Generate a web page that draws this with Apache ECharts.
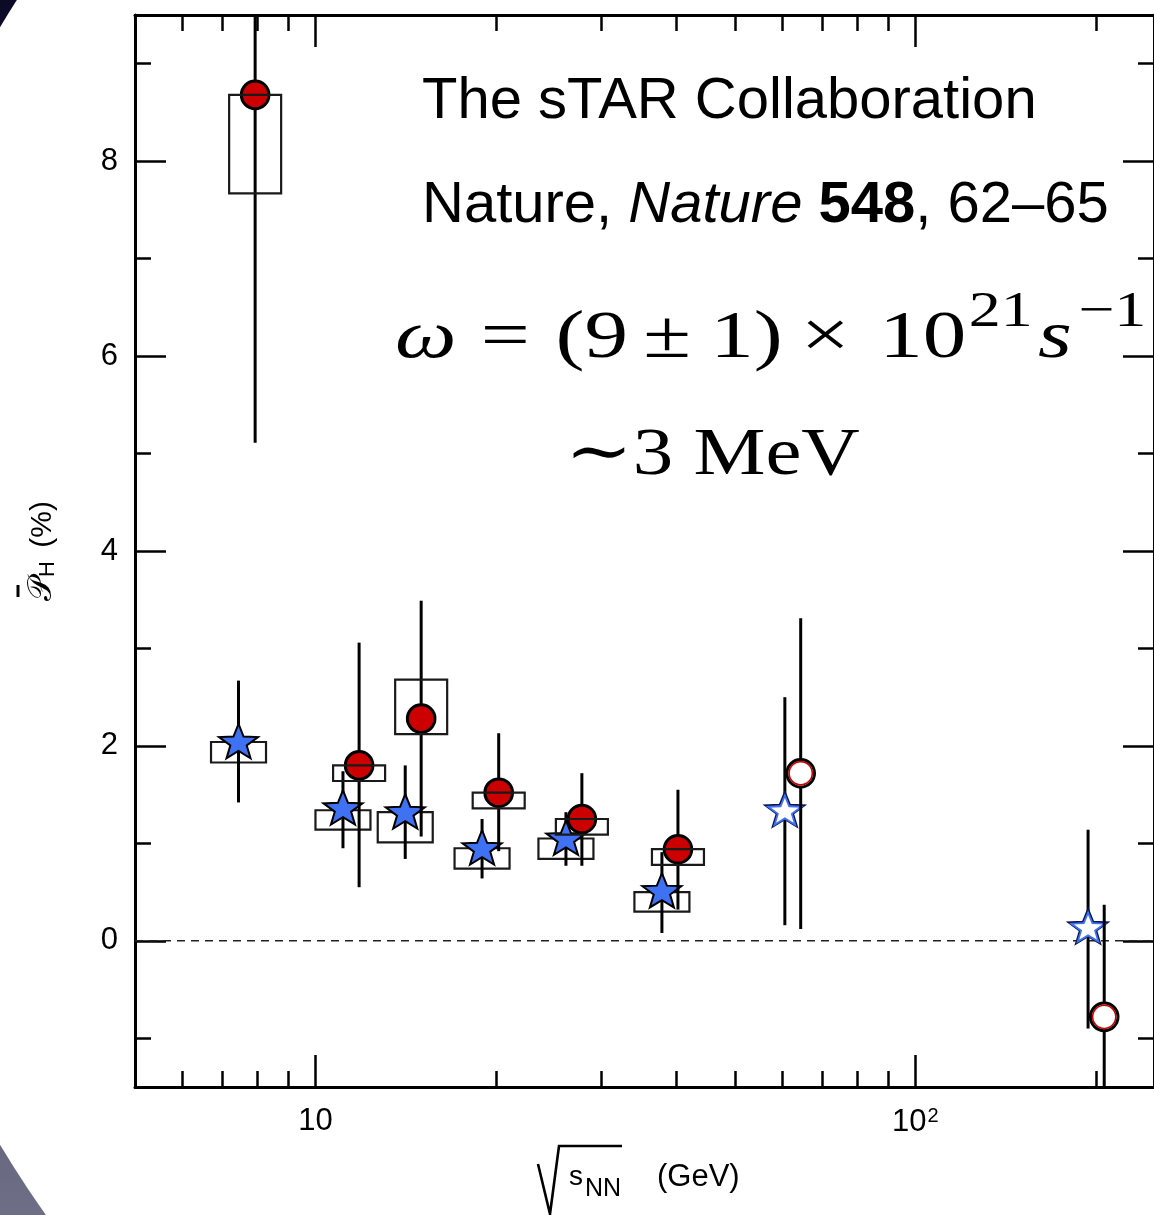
<!DOCTYPE html>
<html>
<head>
<meta charset="utf-8">
<script src="https://cdn.jsdelivr.net/npm/echarts@6/dist/echarts.min.js"></script>
<style>
  html, body { margin: 0; padding: 0; background: #fff; }
  #chart { width: 1154px; height: 1215px; }
</style>
</head>
<body>
<div id="chart"></div>
<script>
// ---- Global hyperon polarization vs collision energy ----
// Anti-Lambda (red circles): sqrt(s_NN) in GeV as plotted, value and errors in %
const antiLambdaX       = [7.93, 11.82, 15.0, 20.2, 27.8, 40.2, 64.4, 206.5];
const antiLambdaP       = [8.68, 1.80, 2.28, 1.52, 1.25, 0.94, 1.72, -0.78];
const antiLambdaStatLo  = [5.11, 0.55, 1.07, 0.92, 0.77, 0.32, 0.12, -1.93];
const antiLambdaStatHi  = [12.25, 3.06, 3.49, 2.13, 1.72, 1.55, 3.31, 0.37];
const antiLambdaSysLo   = [7.67, 1.64, 2.12, 1.36, 1.09, 0.78, null, null];
const antiLambdaSysHi   = [8.68, 1.80, 2.68, 1.52, 1.25, 0.94, null, null];
const antiLambdaOpen    = [false, false, false, false, false, false, true, true];

// Lambda (blue stars)
const lambdaX       = [7.44, 11.11, 14.11, 18.95, 26.15, 37.8, 60.6, 194.1];
const lambdaP       = [2.03, 1.35, 1.31, 0.94, 1.04, 0.50, 1.33, 0.13];
const lambdaStatLo  = [1.42, 0.95, 0.84, 0.64, 0.77, 0.08, 0.16, -0.90];
const lambdaStatHi  = [2.67, 1.74, 1.80, 1.25, 1.32, 0.91, 2.50, 1.14];
const lambdaSysLo   = [1.83, 1.14, 1.01, 0.74, 0.84, 0.30, null, null];
const lambdaSysHi   = [2.04, 1.34, 1.32, 0.95, 1.05, 0.50, null, null];
const lambdaOpen    = [false, false, false, false, false, false, true, true];

// Axis ticks
const xMajorTicks = [10, 100];
const xMinorTicks = [6, 7, 8, 9, 20, 30, 40, 50, 60, 70, 80, 90, 200];
const yMajorTicks = [0, 2, 4, 6, 8];
const yMinorTicks = [-1, 1, 3, 5, 7, 9];
const zeroLine = [0, 0];

const SANS = "'Liberation Sans', Arial, Helvetica, sans-serif";
const SERIF = "'Liberation Serif', 'Times New Roman', 'DejaVu Serif', serif";

const RED = '#cc0000';
const BLUE = '#3f72f2';

// ---- helpers to build series data ----
function errData(xs, lo, hi) {
  return xs.map((x, i) => [x, lo[i], hi[i]]);
}
function sysData(xs, lo, hi) {
  const out = [];
  xs.forEach((x, i) => { if (lo[i] != null) out.push([x, lo[i], hi[i]]); });
  return out;
}
function markerData(xs, ys, open) {
  return xs.map((x, i) => [x, ys[i], open[i] ? 1 : 0]);
}

// ---- renderItem functions ----
function renderErr(params, api) {
  const x = api.value(0);
  const a = api.coord([x, api.value(1)]);
  const b = api.coord([x, api.value(2)]);
  return {
    type: 'line',
    shape: { x1: a[0], y1: a[1], x2: b[0], y2: b[1] },
    style: { stroke: '#000', lineWidth: 3 }
  };
}
function makeBoxRender(halfW) {
  return function (params, api) {
    const x = api.value(0);
    const lo = api.coord([x, api.value(1)]);
    const hi = api.coord([x, api.value(2)]);
    return {
      type: 'rect',
      shape: { x: lo[0] - halfW, y: hi[1], width: 2 * halfW, height: lo[1] - hi[1] },
      style: { fill: 'none', stroke: '#1a1a1a', lineWidth: 2.2 }
    };
  };
}
function renderCircle(params, api) {
  const c = api.coord([api.value(0), api.value(1)]);
  const open = api.value(2) === 1;
  if (open) {
    return {
      type: 'group',
      children: [
        { type: 'circle', shape: { cx: c[0], cy: c[1], r: 13.8 }, style: { fill: '#fff', stroke: '#000', lineWidth: 3 } },
        { type: 'circle', shape: { cx: c[0], cy: c[1], r: 11.6 }, style: { fill: 'none', stroke: RED, lineWidth: 1.6 } }
      ]
    };
  }
  return {
    type: 'circle',
    shape: { cx: c[0], cy: c[1], r: 13.8 },
    style: { fill: RED, stroke: '#000', lineWidth: 3 }
  };
}
function starPoints(cx, cy, rx, ry, inner) {
  const pts = [];
  for (let k = 0; k < 10; k++) {
    const ang = (-90 + k * 36) * Math.PI / 180;
    const f = (k % 2 === 0) ? 1 : inner;
    pts.push([cx + rx * f * Math.cos(ang), cy + ry * f * Math.sin(ang)]);
  }
  return pts;
}
function renderStar(params, api) {
  const c = api.coord([api.value(0), api.value(1)]);
  const open = api.value(2) === 1;
  if (open) {
    return {
      type: 'group',
      children: [
        { type: 'polygon', shape: { points: starPoints(c[0], c[1], 20.5, 19, 0.42) }, style: { fill: '#fff', stroke: '#0a1550', lineWidth: 2 } },
        { type: 'polygon', shape: { points: starPoints(c[0], c[1] + 0.5, 17.5, 16, 0.42) }, style: { fill: '#fff', stroke: BLUE, lineWidth: 1.8 } }
      ]
    };
  }
  return {
    type: 'polygon',
    shape: { points: starPoints(c[0], c[1], 20.5, 19, 0.42) },
    style: { fill: BLUE, stroke: '#000', lineWidth: 2 }
  };
}

// ---- axes ----
const xBase = { type: 'log', logBase: 10, min: 5, max: 250, splitLine: { show: false } };
const yBase = { type: 'value', min: -1.5, max: 9.5, splitLine: { show: false } };
const lineOn = { show: true, onZero: false, lineStyle: { color: '#000', width: 3 } };
const lineOff = { show: false, onZero: false };
function ticks(values, len) {
  return { show: true, inside: true, length: len, customValues: values, lineStyle: { color: '#000', width: 2.5 } };
}
const noLabel = { show: false };

// formula styles (serif, widened)
const FS = 68, LH = 102;
const formulaRich = {
  w: { fontSize: FS, lineHeight: LH, fontFamily: SERIF, fontStyle: 'italic', fill: '#000' },
  rel: { fontSize: FS, lineHeight: LH, fontFamily: SERIF, fill: '#000', padding: [0, 20, 0, 19] },
  bin: { fontSize: FS, lineHeight: LH, fontFamily: SERIF, fill: '#000', padding: [0, 15, 0, 12] },
  times: { fontSize: FS, lineHeight: LH, fontFamily: SERIF, fill: '#000', padding: [0, 23, 0, 14] },
  n: { fontSize: FS, lineHeight: LH, fontFamily: SERIF, fill: '#000' },
  s: { fontSize: FS, lineHeight: LH, fontFamily: SERIF, fontStyle: 'italic', fill: '#000', padding: [0, 3, 0, 4] },
  sup: { fontSize: 50, lineHeight: 58, fontFamily: SERIF, fill: '#000', verticalAlign: 'top', padding: [0, 0, 0, 2] }
};

const option = {
  animation: false,
  backgroundColor: {
    type: 'linear', x: 0, y: 0, x2: 0, y2: 1,
    colorStops: [{ offset: 0, color: '#0b0b27' }, { offset: 1, color: '#6e6e86' }]
  },
  grid: [
    { left: 135, top: 15, width: 1022, height: 1072 },
    { left: 135, top: 15, width: 1022, height: 1072 }
  ],
  xAxis: [
    Object.assign({}, xBase, {
      gridIndex: 0, position: 'bottom', axisLine: lineOn, axisTick: ticks(xMajorTicks, 32),
      axisLabel: {
        show: true, customValues: xMajorTicks, margin: 19, color: '#000',
        fontSize: 31, fontFamily: SANS,
        formatter: v => (Math.round(v) === 100 ? '10{sup|2}{pad|}' : '10'),
        rich: {
          sup: { fontSize: 20, fontFamily: SANS, color: '#000', verticalAlign: 'top', padding: [0, 0, 12, 1] },
          pad: { width: 0, padding: [0, 0, 0, 0] }
        }
      }
    }),
    Object.assign({}, xBase, { gridIndex: 0, position: 'top', axisLine: lineOn, axisTick: ticks(xMajorTicks, 32), axisLabel: noLabel }),
    Object.assign({}, xBase, { gridIndex: 1, position: 'bottom', axisLine: lineOff, axisTick: ticks(xMinorTicks, 16), axisLabel: noLabel }),
    Object.assign({}, xBase, { gridIndex: 1, position: 'top', axisLine: lineOff, axisTick: ticks(xMinorTicks, 16), axisLabel: noLabel })
  ],
  yAxis: [
    Object.assign({}, yBase, {
      gridIndex: 0, position: 'left', axisLine: lineOn, axisTick: ticks(yMajorTicks, 31),
      axisLabel: { show: true, customValues: yMajorTicks, margin: 17, color: '#000', fontSize: 31, fontFamily: SANS },
      name: '{p|\uD835\uDCAB}{sub|H}{n| (%)}',
      nameLocation: 'middle', nameRotate: 90, nameGap: 76,
      nameTextStyle: {
        color: '#000',
        rich: {
          p: { fontSize: 33, fontFamily: "'DejaVu Sans', " + SERIF, color: '#000' },
          sub: { fontSize: 22, fontFamily: SANS, color: '#000', verticalAlign: 'bottom', padding: [0, 5, 0, 0] },
          n: { fontSize: 30, fontFamily: SANS, color: '#000' }
        }
      }
    }),
    Object.assign({}, yBase, { gridIndex: 0, position: 'right', axisLine: lineOn, axisTick: ticks(yMajorTicks, 31), axisLabel: noLabel }),
    Object.assign({}, yBase, { gridIndex: 1, position: 'left', axisLine: lineOff, axisTick: ticks(yMinorTicks, 16), axisLabel: noLabel }),
    Object.assign({}, yBase, { gridIndex: 1, position: 'right', axisLine: lineOff, axisTick: ticks(yMinorTicks, 16), axisLabel: noLabel })
  ],
  series: [
    {
      // dashed zero reference
      type: 'line', xAxisIndex: 0, yAxisIndex: 0, z: 1,
      data: [[5, zeroLine[0]], [250, zeroLine[1]]],
      symbol: 'none', silent: true,
      lineStyle: { color: '#222', width: 1.6, type: [8, 6] }
    },
    { type: 'custom', name: 'lambdaSys', xAxisIndex: 0, yAxisIndex: 0, z: 2, clip: true,
      renderItem: makeBoxRender(27.5), data: sysData(lambdaX, lambdaSysLo, lambdaSysHi) },
    { type: 'custom', name: 'lambdaStat', xAxisIndex: 0, yAxisIndex: 0, z: 3, clip: true,
      renderItem: renderErr, data: errData(lambdaX, lambdaStatLo, lambdaStatHi) },
    { type: 'custom', name: 'lambda', xAxisIndex: 0, yAxisIndex: 0, z: 4, clip: true,
      renderItem: renderStar, data: markerData(lambdaX, lambdaP, lambdaOpen) },
    { type: 'custom', name: 'antiLambdaStat', xAxisIndex: 0, yAxisIndex: 0, z: 5, clip: true,
      renderItem: renderErr, data: errData(antiLambdaX, antiLambdaStatLo, antiLambdaStatHi) },
    { type: 'custom', name: 'antiLambda', xAxisIndex: 0, yAxisIndex: 0, z: 6, clip: true,
      renderItem: renderCircle, data: markerData(antiLambdaX, antiLambdaP, antiLambdaOpen) },
    { type: 'custom', name: 'antiLambdaSys', xAxisIndex: 0, yAxisIndex: 0, z: 7, clip: true,
      renderItem: makeBoxRender(26), data: sysData(antiLambdaX, antiLambdaSysLo, antiLambdaSysHi) }
  ],
  graphic: [
    // white page area over the dark backdrop
    { type: 'circle', z: -10, silent: true, shape: { cx: 930, cy: 586, r: 1085 }, style: { fill: '#ffffff' } },
    // overbar of the polarization symbol in the y-axis title
    { type: 'line', z: 50, silent: true, shape: { x1: 18, y1: 585, x2: 18, y2: 597 }, style: { stroke: '#000', lineWidth: 3 } },
    // annotations
    { type: 'text', z: 50, x: 422, y: 102,
      style: { text: 'The sTAR Collaboration', font: '58px ' + SANS, fill: '#000', textVerticalAlign: 'middle' } },
    { type: 'text', z: 50, x: 422, y: 206,
      style: {
        text: '{n|Nature, }{i|Nature}{n| }{b|548}{n|, 62\u201365}',
        textVerticalAlign: 'middle', fill: '#000',
        rich: {
          n: { fontSize: 58, fontFamily: SANS, fill: '#000' },
          i: { fontSize: 58, fontFamily: SANS, fontStyle: 'italic', fill: '#000' },
          b: { fontSize: 58, fontFamily: SANS, fontWeight: 'bold', fill: '#000' }
        }
      } },
    { type: 'text', z: 50, x: 395, y: 339, scaleX: 1.28,
      style: {
        text: '{w|\u03C9}{rel|=}{n|(9}{bin|\u00B1}{n|1)}{times|\u00D7}{n|10}{sup|21}{s|s}{sup|\u22121}',
        textVerticalAlign: 'middle', fill: '#000',
        rich: formulaRich
      } },
    { type: 'text', z: 50, x: 565, y: 456, scaleX: 1.19,
      style: { text: '\u223C3 MeV', font: FS + 'px ' + SERIF, fill: '#000', textVerticalAlign: 'middle' } },
    // x axis title: radical sign over s_NN
    { type: 'polyline', z: 50, silent: true,
      shape: { points: [[538, 1164], [550, 1214], [559, 1146], [622, 1146]] },
      style: { stroke: '#000', lineWidth: 2.6, fill: 'none' } },
    { type: 'text', z: 50, x: 569, y: 1177,
      style: { text: 's', font: '28px ' + SANS, fill: '#000', textVerticalAlign: 'middle' } },
    { type: 'text', z: 50, x: 585, y: 1189,
      style: { text: 'NN', font: '25px ' + SANS, fill: '#000', textVerticalAlign: 'middle' } },
    { type: 'text', z: 50, x: 657, y: 1177,
      style: { text: '(GeV)', font: '31px ' + SANS, fill: '#000', textVerticalAlign: 'middle' } }
  ]
};

const chart = echarts.init(document.getElementById('chart'));
chart.setOption(option);
</script>
</body>
</html>
